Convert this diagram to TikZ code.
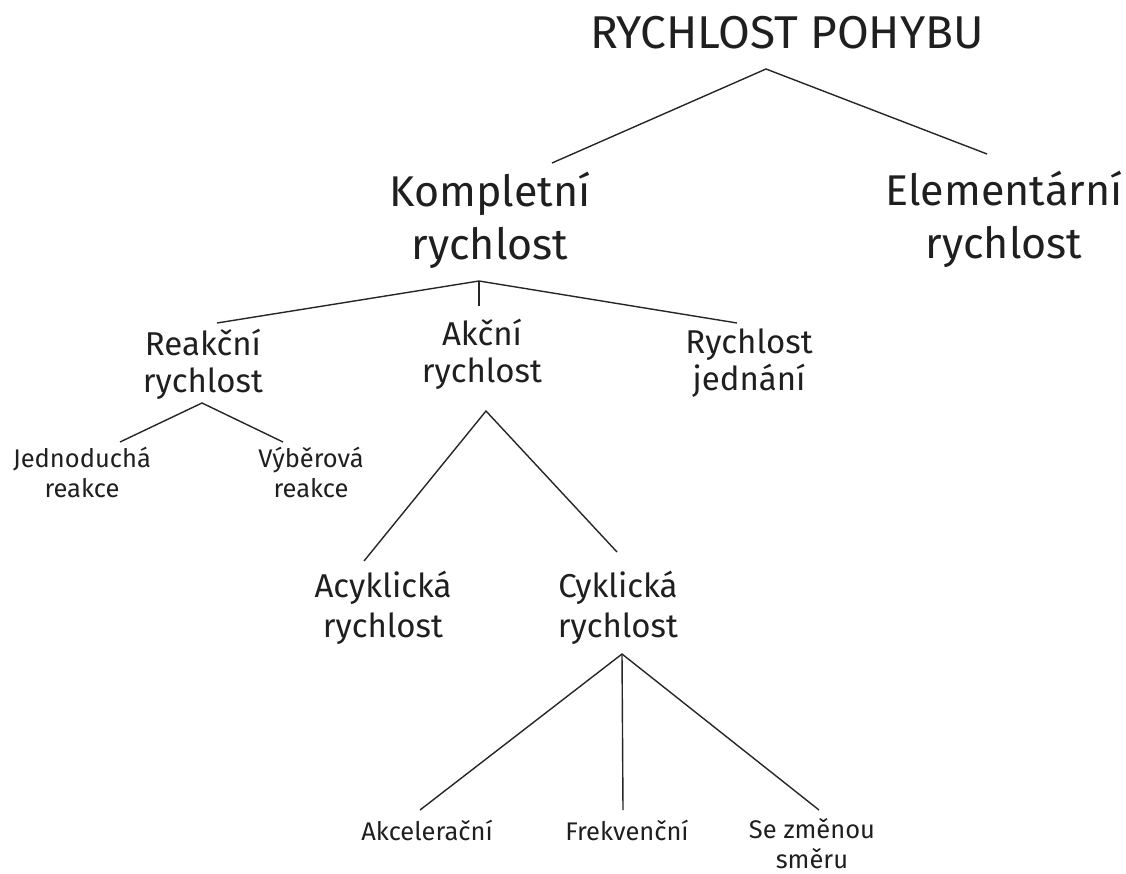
\documentclass[tikz,border=0pt]{standalone}
\usepackage{fontspec}
\setmainfont{Fira Sans}
\begin{document}
\begin{tikzpicture}[x=1pt,y=-1pt,
  lbl/.style={anchor=base,align=center,inner sep=0pt,text=black!88},
  title/.style={lbl,font=\fontsize{46}{52}\selectfont},
  big/.style={lbl,font=\fontsize{43}{53}\selectfont},
  mid/.style={lbl,font=\fontsize{33}{37}\selectfont},
  midb/.style={lbl,font=\fontsize{33}{40}\selectfont},
  sml/.style={lbl,font=\fontsize{25.5}{30}\selectfont},
  edge/.style={draw=black!85,line width=1.4pt}]
\useasboundingbox (0,0) rectangle (1126,873);
% nodes (anchor = baseline of the last line)
\node[title] (root) at (787,48) {RYCHLOST POHYBU};
\node[big] (komp) at (490,259) {Kompletní\\rychlost};
\node[big] (elem) at (1004,258) {Elementární\\rychlost};
\node[mid] (reak) at (203,392) {Reakční\\rychlost};
\node[mid] (akcn) at (482,382) {Akční\\rychlost};
\node[mid] (jedn) at (749,390) {Rychlost\\jednání};
\node[sml] (jedr) at (82,497) {Jednoduchá\\reakce};
\node[sml] (vybr) at (311,497) {Výběrová\\reakce};
\node[midb] (acyk) at (383,637) {Acyklická\\rychlost};
\node[midb] (cykl) at (618,637) {Cyklická\\rychlost};
\node[sml] (akce) at (427,840) {Akcelerační};
\node[sml] (frek) at (627,840) {Frekvenční};
\node[sml] (smer) at (812,868) {Se změnou\\směru};
% junctions and free ends
\coordinate (j0) at (766,69);
\coordinate (e0a) at (552,163);
\coordinate (e0b) at (987,154);
\coordinate (j1) at (479,281);
\coordinate (e1a) at (217,323);
\coordinate (e1b) at (479,306);
\coordinate (e1c) at (737,323);
\coordinate (j2) at (202,403);
\coordinate (e2a) at (120,442);
\coordinate (e2b) at (283,442);
\coordinate (j3) at (486,411);
\coordinate (e3a) at (364,561);
\coordinate (e3b) at (617,552);
\coordinate (j4) at (622,654);
\coordinate (e4a) at (420,810);
\coordinate (e4b) at (623,810);
\coordinate (e4c) at (819,810);
% connectors
\draw[edge] (e0a) -- (j0) -- (e0b);
\draw[edge] (e1a) -- (j1) -- (e1c);
\draw[edge] (j1) -- (e1b);
\draw[edge] (e2a) -- (j2) -- (e2b);
\draw[edge] (e3a) -- (j3) -- (e3b);
\draw[edge] (e4a) -- (j4) -- (e4c);
\draw[edge] (j4) -- (e4b);
\end{tikzpicture}
\end{document}
